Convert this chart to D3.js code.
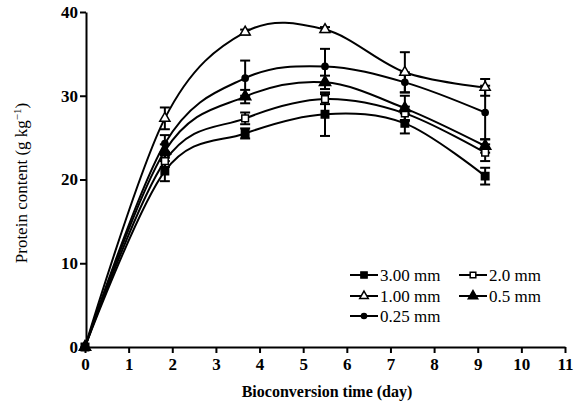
<!DOCTYPE html>
<html>
<head>
<meta charset="utf-8">
<script src="https://cdn.jsdelivr.net/npm/d3@7"></script>
<style>
  body { margin: 0; background: #fff; }
  text { font-family: 'Liberation Serif', 'DejaVu Serif', serif; }
</style>
</head>
<body>
<div id="chart"></div>
<script>
const width = 581
const height = 406
const margin = { top: 12, right: 16, bottom: 59, left: 86 }

const days = [0, 1.83, 3.67, 5.5, 7.33, 9.17]
const xTicks = [0, 1, 2, 3, 4, 5, 6, 7, 8, 9, 10, 11]
const yTicks = [0, 10, 20, 30, 40]

const seriesNames = ['3.00 mm', '2.0 mm', '1.00 mm', '0.5 mm', '0.25 mm']
const mm300 = [0, 21.0, 25.5, 27.8, 26.7, 20.4]
const mm200 = [0, 22.2, 27.3, 29.6, 27.9, 23.2]
const mm100 = [0, 27.3, 37.6, 37.9, 32.8, 31.0]
const mm050 = [0, 23.4, 29.9, 31.6, 28.5, 24.0]
const mm025 = [0, 24.3, 32.1, 33.5, 31.6, 28.0]
const err300 = [0, 1.2, 0.6, 2.6, 1.2, 1.0]
const err200 = [0, 0.7, 0.7, 0.6, 0.8, 1.0]
const err100 = [0, 1.3, 0.3, 0.3, 2.4, 1.0]
const err050 = [0, 0.8, 0.8, 0.8, 1.5, 0.8]
const err025 = [0, 1.0, 2.1, 2.1, 1.2, 3.2]

const series = [
  { name: seriesNames[0], values: mm300, errors: err300, symbol: d3.symbolSquare, open: false, size: 55 },
  { name: seriesNames[1], values: mm200, errors: err200, symbol: d3.symbolSquare, open: true, size: 45 },
  { name: seriesNames[2], values: mm100, errors: err100, symbol: d3.symbolTriangle, open: true, size: 45 },
  { name: seriesNames[3], values: mm050, errors: err050, symbol: d3.symbolTriangle, open: false, size: 55 },
  { name: seriesNames[4], values: mm025, errors: err025, symbol: d3.symbolCircle, open: false, size: 30 }
]

const svg = d3.select('#chart').append('svg').attr('width', width).attr('height', height)

const x = d3.scaleLinear().domain([0, 11]).range([margin.left - 1, width - margin.right])
const y = d3.scaleLinear().domain([0, 40]).range([height - margin.bottom, margin.top])

const line = d3.line()
  .x(d => x(d[0]))
  .y(d => y(d[1]))
  .curve(d3.curveCatmullRom.alpha(0))

// curves
series.forEach(s => {
  svg.append('path')
    .datum(days.map((d, i) => [d, s.values[i]]))
    .attr('fill', 'none')
    .attr('stroke', '#000')
    .attr('stroke-width', 2)
    .attr('d', line)
})

// error bars
series.forEach(s => {
  const g = svg.append('g').attr('stroke', '#000').attr('stroke-width', 2)
  days.forEach((d, i) => {
    const e = s.errors[i]
    if (!e) return
    const cx = x(d)
    g.append('line').attr('x1', cx).attr('x2', cx).attr('y1', y(s.values[i] - e)).attr('y2', y(s.values[i] + e))
    ;[-e, e].forEach(k => {
      g.append('line').attr('x1', cx - 5).attr('x2', cx + 5)
        .attr('y1', y(s.values[i] + k)).attr('y2', y(s.values[i] + k))
    })
  })
})

// markers
series.forEach(s => {
  svg.append('g').selectAll('path')
    .data(days.map((d, i) => [d, s.values[i]]))
    .join('path')
    .attr('transform', d => `translate(${x(d[0])},${y(d[1])})`)
    .attr('d', d3.symbol(s.symbol, s.size))
    .attr('fill', s.open ? '#fff' : '#000')
    .attr('stroke', '#000')
    .attr('stroke-width', 1.5)
})

// axes
const xAxis = svg.append('g')
  .attr('transform', `translate(0,${height - margin.bottom})`)
  .call(d3.axisBottom(x).tickValues(xTicks).tickSize(6).tickSizeOuter(0))
const yAxis = svg.append('g')
  .attr('transform', `translate(${margin.left},0)`)
  .call(d3.axisLeft(y).tickValues(yTicks).tickSize(6).tickSizeOuter(0))

;[xAxis, yAxis].forEach(a => {
  a.select('.domain').attr('stroke-width', 2)
  a.selectAll('.tick line').attr('stroke-width', 2)
  a.selectAll('.tick text')
    .attr('font-family', "'Liberation Serif', serif")
    .attr('font-size', 17)
    .attr('font-weight', 'bold')
    .attr('fill', '#000')
})
xAxis.selectAll('.tick text').attr('dy', '0.8em').attr('y', 9)
yAxis.selectAll('.tick text').attr('x', -8)

svg.append('text')
  .attr('x', 327)
  .attr('y', 397)
  .attr('text-anchor', 'middle')
  .attr('font-size', 16)
  .attr('font-weight', 'bold')
  .text('Bioconversion time (day)')

svg.append('text')
  .attr('transform', 'translate(27,183) rotate(-90)')
  .attr('text-anchor', 'middle')
  .attr('font-size', 17)
  .html('Protein content (g kg<tspan dy="-6" font-size="11">−1</tspan><tspan dy="6">)</tspan>')

// legend
const legendPos = [[350, 275], [459, 275], [350, 296], [459, 296], [350, 316]]
series.forEach((s, i) => {
  const [lx, ly] = legendPos[i]
  const g = svg.append('g').attr('transform', `translate(${lx},${ly})`)
  g.append('line').attr('x1', 0).attr('x2', 28).attr('y1', 0).attr('y2', 0)
    .attr('stroke', '#000').attr('stroke-width', 2)
  g.append('path').attr('transform', 'translate(14,0)')
    .attr('d', d3.symbol(s.symbol, s.size * 0.7))
    .attr('fill', s.open ? '#fff' : '#000')
    .attr('stroke', '#000').attr('stroke-width', 1.5)
  g.append('text').attr('x', 30).attr('y', 6).attr('font-size', 17).text(s.name)
})
</script>
</body>
</html>
